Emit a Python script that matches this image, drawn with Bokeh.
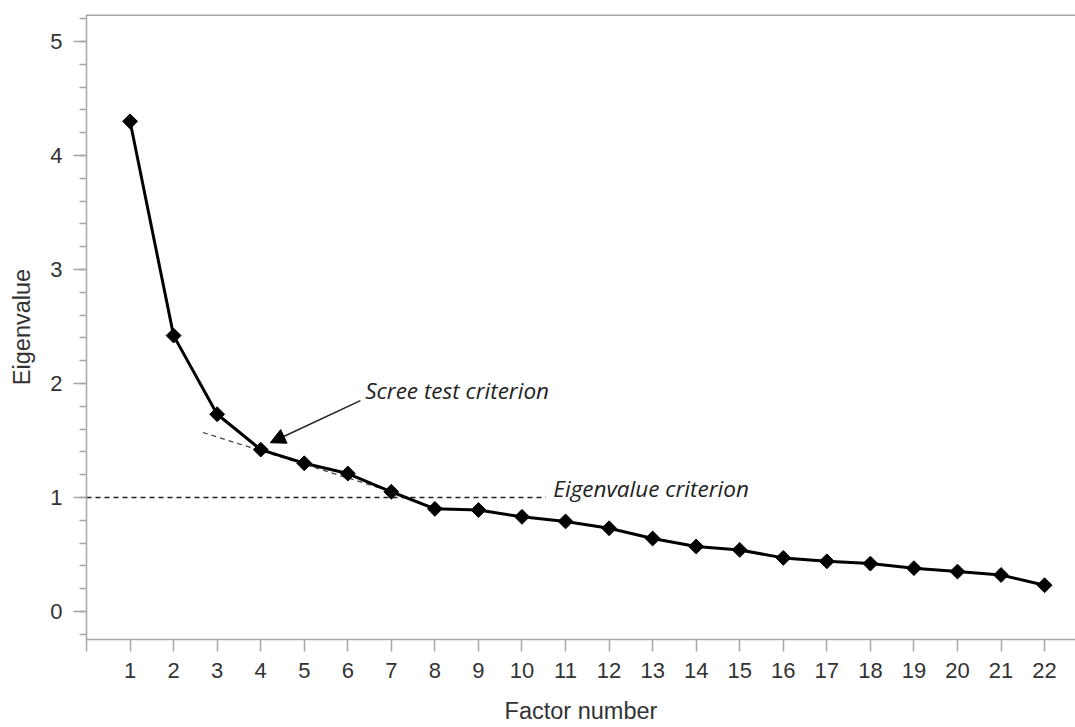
import math
from bokeh.plotting import figure
from bokeh.models import (Range1d, FixedTicker, SingleIntervalTicker, Span, Arrow,
                          NormalHead, ColumnDataSource)
from bokeh.core.properties import value
from bokeh.embed import file_html
from bokeh.resources import INLINE

# ---- data ----
factors = list(range(1, 23))
eigenvalues = [4.30, 2.42, 1.73, 1.42, 1.30, 1.21, 1.05, 0.90, 0.89, 0.83, 0.79,
               0.73, 0.64, 0.57, 0.54, 0.47, 0.44, 0.42, 0.38, 0.35, 0.32, 0.23]
x_ticks = list(range(0, 23))
x_tick_labels = {0: ""}
eigen_criterion_x = [0, 10.55]
eigen_criterion_y = [1.0, 1.0]
scree_x = [2.67, 7.1]
scree_y = [1.57, 1.04]
scree_label = "Scree test criterion"
scree_label_pos = (6.40, 1.94)
eigen_label = "Eigenvalue criterion"
eigen_label_pos = (10.72, 1.08)
arrow_start = (6.29, 1.85)
arrow_end = (4.22, 1.48)

W, H = 1075, 727
x_start, x_end = 0.0, 22.71
y_start, y_end = -0.246, 5.237

AXIS_COLOR = "#a6a6a6"
TEXT_COLOR = "#333333"

p = figure(width=W, height=H, output_backend="svg", toolbar_location=None,
           x_range=Range1d(x_start, x_end), y_range=Range1d(y_start, y_end),
           min_border_left=86, min_border_right=0, min_border_top=14,
           min_border_bottom=H - 639, background_fill_color="white",
           border_fill_color="white")
p.outline_line_color = None
p.grid.visible = False

# axes
p.xaxis.ticker = FixedTicker(ticks=x_ticks)
p.xaxis.major_label_overrides = x_tick_labels
p.yaxis.ticker = SingleIntervalTicker(interval=1, num_minor_ticks=5)
for ax in (p.xaxis[0], p.yaxis[0]):
    ax.axis_line_color = AXIS_COLOR
    ax.axis_line_width = 1.5
    ax.major_tick_line_color = AXIS_COLOR
    ax.major_tick_line_width = 1.5
    ax.minor_tick_line_color = AXIS_COLOR
    ax.minor_tick_line_width = 1.5
    ax.major_tick_in = 0
    ax.minor_tick_in = 0
    ax.major_label_text_font = "Liberation Sans"
    ax.major_label_text_font_size = "22px"
    ax.major_label_text_color = TEXT_COLOR
    ax.axis_label_text_font = "Liberation Sans"
    ax.axis_label_text_font_size = "23.5px"
    ax.axis_label_text_font_style = "normal"
    ax.axis_label_text_color = TEXT_COLOR
p.xaxis.minor_tick_line_color = None
p.xaxis.major_tick_out = 12
p.xaxis.major_label_standoff = 11
p.xaxis.axis_label = "Factor number"
p.xaxis.axis_label_standoff = 17
p.yaxis.major_tick_out = 13
p.yaxis.minor_tick_out = 7
p.yaxis.major_label_standoff = 11
p.yaxis.axis_label = "Eigenvalue"
p.yaxis.axis_label_standoff = 12

# top border line
p.add_layout(Span(location=y_end, dimension="width", line_color=AXIS_COLOR,
                  line_width=3))

# criterion lines
p.line(eigen_criterion_x, eigen_criterion_y, line_color="#222222", line_width=1.4,
       line_dash="5 4")
p.line(scree_x, scree_y, line_color="#444444", line_width=1.3, line_dash="5 4")

# data
src = ColumnDataSource(dict(x=factors, y=eigenvalues))
p.line("x", "y", source=src, line_color="black", line_width=3)
p.scatter("x", "y", source=src, marker="square", angle=math.pi / 4, size=10.5,
          fill_color="black", line_color="black")

# annotations
p.text(x=[scree_label_pos[0]], y=[scree_label_pos[1]], text=[scree_label],
       text_font=value("Open Sans"), text_font_style="italic",
       text_font_size="22.5px", text_color="#222222", text_baseline="middle",
       text_align="left")
p.text(x=[eigen_label_pos[0]], y=[eigen_label_pos[1]], text=[eigen_label],
       text_font=value("Open Sans"), text_font_style="italic",
       text_font_size="22.5px", text_color="#222222", text_baseline="middle",
       text_align="left")
p.add_layout(Arrow(x_start=arrow_start[0], y_start=arrow_start[1],
                   x_end=arrow_end[0], y_end=arrow_end[1],
                   line_color="#222222", line_width=1.5,
                   end=NormalHead(size=15, fill_color="black", line_color="black")))

open("out.html", "w").write(file_html(p, INLINE))
